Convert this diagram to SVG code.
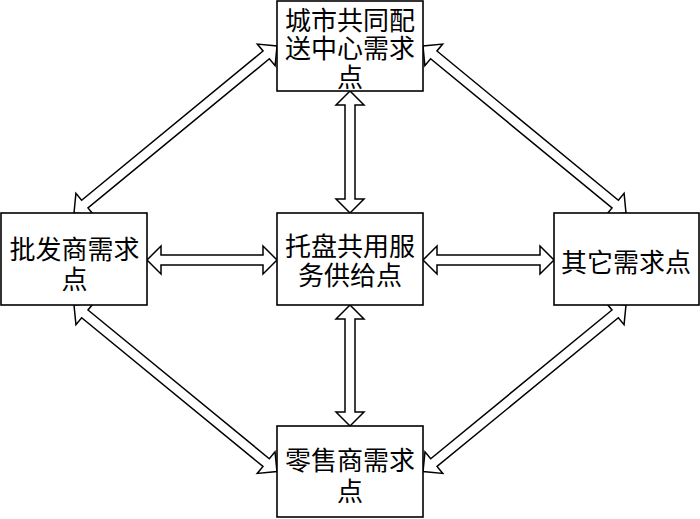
<svg xmlns="http://www.w3.org/2000/svg" width="700" height="519" viewBox="0 0 700 519">
<style>
.box{fill:#fff;stroke:#000;stroke-width:1.6}
.arr{fill:#fff;stroke:#000;stroke-width:1.5;stroke-linejoin:miter}
text{font-family:"Noto Sans CJK SC","Noto Sans CJK JP",sans-serif;font-size:26px;fill:#000;text-anchor:middle;dominant-baseline:central}
</style>
<rect width="700" height="519" fill="#fff"/>
<g id="connectors">
<polygon class="arr" transform="translate(147,260)" points="0,0 14,-14 14,-5 116,-5 116,-14 130,0 116,14 116,5 14,5 14,14"/>
<polygon class="arr" transform="translate(423,260)" points="0,0 14,-14 14,-5 117,-5 117,-14 131,0 117,14 117,5 14,5 14,14"/>
<polygon class="arr" transform="translate(350,91) rotate(90)" points="0,0 14,-14 14,-5 108,-5 108,-14 122,0 108,14 108,5 14,5 14,14"/>
<polygon class="arr" transform="translate(350,305) rotate(90)" points="0,0 14,-14 14,-5 107,-5 107,-14 121,0 107,14 107,5 14,5 14,14"/>
<polygon class="arr" transform="translate(74,213) rotate(-39.44)" points="0,0 14,-14 14,-5 248.9,-5 248.9,-14 262.9,0 248.9,14 248.9,5 14,5 14,14"/>
<polygon class="arr" transform="translate(626,213) rotate(-140.56)" points="0,0 14,-14 14,-5 248.9,-5 248.9,-14 262.9,0 248.9,14 248.9,5 14,5 14,14"/>
<polygon class="arr" transform="translate(74,305) rotate(39.36)" points="0,0 14,-14 14,-5 248.5,-5 248.5,-14 262.5,0 248.5,14 248.5,5 14,5 14,14"/>
<polygon class="arr" transform="translate(626,305) rotate(140.64)" points="0,0 14,-14 14,-5 248.5,-5 248.5,-14 262.5,0 248.5,14 248.5,5 14,5 14,14"/>
</g>
<g id="top">
<rect class="box" x="277" y="1" width="146" height="90"/>
<text x="350" y="18">城市共同配</text>
<text x="350" y="46">送中心需求</text>
<text x="350" y="75">点</text>
</g>
<g id="left">
<rect class="box" x="1" y="213" width="146" height="92"/>
<text x="74.5" y="247">批发商需求</text>
<text x="74.5" y="277">点</text>
</g>
<g id="center">
<rect class="box" x="277" y="213" width="146" height="92"/>
<text x="350" y="244">托盘共用服</text>
<text x="350" y="273">务供给点</text>
</g>
<g id="right">
<rect class="box" x="554" y="213" width="145" height="92"/>
<text x="626" y="260">其它需求点</text>
</g>
<g id="bottom">
<rect class="box" x="277" y="426" width="146" height="91"/>
<text x="350" y="458">零售商需求</text>
<text x="350" y="489">点</text>
</g>
</svg>
